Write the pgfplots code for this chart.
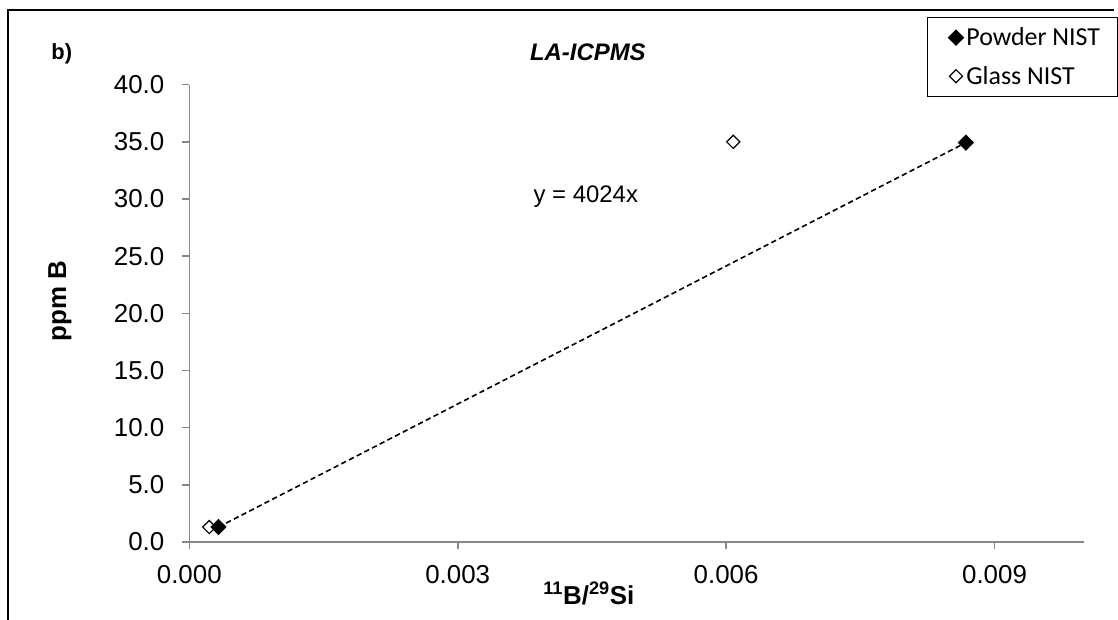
\documentclass[border=0pt]{standalone}
\usepackage{pgfplots}
\pgfplotsset{compat=1.18}
\usepackage{fontspec}
\setmainfont{Liberation Sans}
\newfontfamily\calibri{Carlito}
\definecolor{axgray}{HTML}{868686}
\begin{document}
\begin{tikzpicture}
\begin{scope}[x=0.75pt,y=-0.75pt]
\useasboundingbox (0,0) rectangle (1118,622);
\draw[line width=1.5pt] (8,622) -- (8,10) -- (1118,10);
\node[font=\bfseries\fontsize{16.5}{19}\selectfont] at (62,54) {b)};
\node[font=\bfseries\itshape\fontsize{18}{21}\selectfont] at (590,52) {LA-ICPMS};
\node[font=\fontsize{18}{21}\selectfont] at (588,197) {y = 4024x};
\node[font=\bfseries\fontsize{19.5}{22}\selectfont] at (591,596) {\textsuperscript{11}B/\textsuperscript{29}Si};
\node[font=\bfseries\fontsize{19.5}{22}\selectfont, rotate=90] at (60,302) {ppm B};
\end{scope}
\begin{axis}[
 at={(142.5pt,-408pt)}, anchor=south west,
 scale only axis, width=673.5pt, height=344.25pt,
 xmin=0, xmax=0.01, ymin=0, ymax=40,
 axis x line*=bottom, axis y line*=left,
 axis line style={axgray, line width=1.2pt},
 tick style={axgray, line width=1.2pt},
 tick align=outside, major tick length=5.25pt,
 xtick={0,0.003,0.006,0.009}, ytick={0,5,...,40},
 scaled x ticks=false,
 x tick label style={/pgf/number format/fixed, /pgf/number format/fixed zerofill, /pgf/number format/precision=3, yshift=-8.5pt},
 y tick label style={/pgf/number format/fixed, /pgf/number format/fixed zerofill, /pgf/number format/precision=1, xshift=-10pt},
 /pgf/number format/assume math mode=true,
 tick label style={font=\fontsize{19.5}{22}\selectfont, black},
 legend style={at={(1.038,1.148)}, anchor=north east, draw=black, line width=1pt,
   font=\calibri\fontsize{19.5}{23}\selectfont, cells={anchor=west}, inner xsep=11pt, inner ysep=5.5pt, row sep=10pt},
 legend image code/.code={\path (-0.15cm,0cm); \draw[mark repeat=2,mark phase=2,#1] plot coordinates {(0cm,0cm)(0.2cm,0cm)(0.4cm,0cm)};},
]
\addplot[black, line width=1.2pt, dash pattern=on 4pt off 2.5pt, forget plot] coordinates {(0.000326,1.31) (0.00868,34.93)};
\addplot[only marks, mark=square*, mark size=4.1pt, mark options={rotate=45, fill=black, draw=black, line width=0.5pt}] coordinates {(0.000326,1.31) (0.00868,34.93)};
\addlegendentry{Powder NIST}
\addplot[only marks, mark=square, mark size=3.5pt, mark options={rotate=45, draw=black, line width=0.9pt}] coordinates {(0.000223,1.31) (0.00608,35.0)};
\addlegendentry{Glass NIST}
\end{axis}
\end{tikzpicture}
\end{document}
